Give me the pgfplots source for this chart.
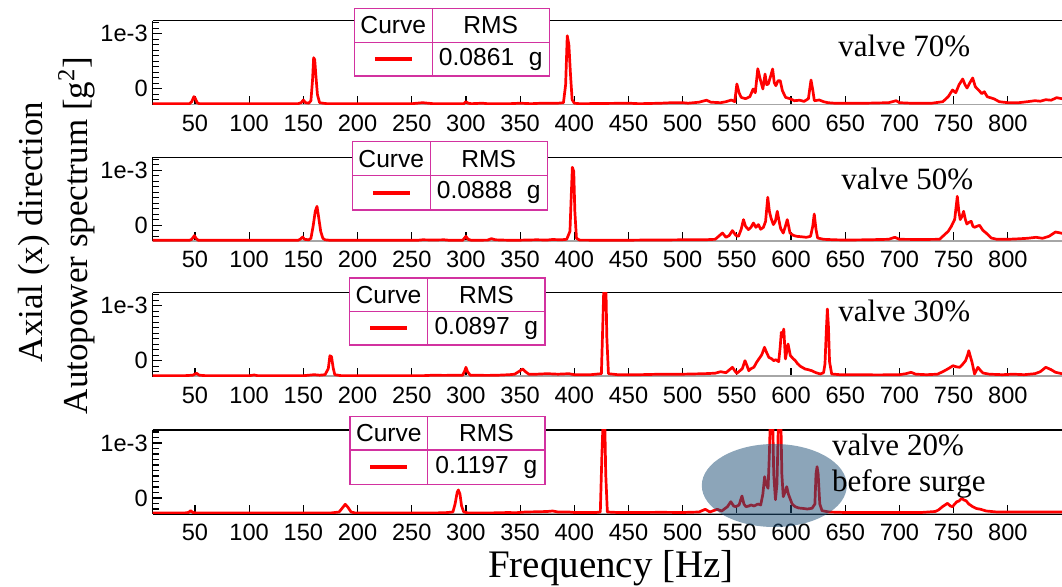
\documentclass[border=0pt]{standalone}
\usepackage{fontspec}
\setmainfont{Liberation Serif}
\newfontfamily\arial{Liberation Sans}
\usepackage{pgfplots}
\pgfplotsset{compat=1.18}
\definecolor{legc}{RGB}{210,50,160}
\definecolor{ellc}{RGB}{29,78,118}
\newcommand{\legfont}{\arial\fontsize{12.3}{14}\selectfont}
\newcommand{\tckfont}{\arial\fontsize{11.8}{14}\selectfont}
\newcommand{\ttlfont}{\fontsize{15.5}{18}\selectfont}
\pgfplotsset{panel/.style={
  at={#1}, anchor=north west,
  scale only axis, width=454.65pt, height=42pt,
  xmin=11, xmax=850, ymin=0, ymax=84,
  axis x line*=box, axis y line*=left,
  xtick={50,100,...,800}, xtick pos=left,
  ytick={16,71}, yticklabels={0,1e-3},
  minor ytick={5,10.5,21.5,27,32.5,38,43.5,49,54.5,60,65.5,76.5,82},
  tick align=inside,
  major tick length=4.5pt, minor tick length=3pt,
  tick style={black, line width=0.6pt},
  axis line style={black, line width=0.6pt},
  ticklabel style={font=\tckfont},
  xticklabel style={yshift=-1.5pt},
  yticklabel style={xshift=1pt},
  /pgf/number format/assume math mode=true,
  clip=true,
}}
\newcommand{\legbox}[7]{%
\begin{scope}[x=0.5pt,y=-0.5pt]
\fill[white] (#1,#2) rectangle (#5,#6);
\draw[legc, line width=0.6pt] (#1,#2) rectangle (#5,#6) (#3,#2) -- (#3,#6) (#1,#4) -- (#5,#4);
\node[font=\legfont, inner sep=0pt] at ({(#1+#3)/2},{(#2+#4)/2}) {Curve};
\node[font=\legfont, inner sep=0pt] at ({(#3+#5)/2},{(#2+#4)/2}) {RMS};
\node[font=\legfont, inner sep=0pt] at ({(#3+#5)/2},{(#4+#6)/2}) {#7\hspace{0.6em}g};
\draw[red, line width=2pt] ({(#1+#3)/2-18.5},{(#4+#6)/2}) -- ++(37,0);
\end{scope}}
\begin{document}
\begin{tikzpicture}
\useasboundingbox (0,0) rectangle (531pt,-293.5pt);
% ---------------- panel 1
\begin{axis}[panel={(76.35pt,-10.35pt)}]
\draw[gray!70, line width=1.2pt] (rel axis cs:0,0) -- (rel axis cs:1,0);
\addplot[red, line width=1.35pt, line join=round] coordinates {
(11,1) (45,1) (47,3) (49,8) (50,7) (52,2) (54,1) (100,1) (145,1) (148,2) (150,4.7) (152,2) (155,1.5) (157,4) (158.5,25) (159.5,47) (160.5,45) (161.5,30) (163,10) (165,2) (168,1.5) (172,1) (250,1) (255,1.5) (260,2) (265,1.5) (270,1) (298,1) (300,3) (302,1.5) (305,1) (315,1.5) (320,1) (340,1) (350,1.5) (360,1) (370,1.5) (385,1.5) (390,2) (392,20) (393.5,69) (395,60) (396.5,30) (398,5) (400,1.5) (405,1) (450,1.5) (460,1) (480,1.5) (490,2) (500,2) (505,1.5) (515,2.5) (522,4.5) (526,2.5) (535,2) (540,3) (545,4.7) (548,3) (550,20.7) (552,12) (554,7.3) (558,6) (562,8) (565,15.7) (567,12) (569.3,36) (571.5,25.7) (574,15.7) (576,30.7) (577.5,20) (579,20.7) (581,28) (583,35.7) (584.5,22) (586,19) (588,24) (590,24) (592,14) (595,7.3) (599,6) (603,4) (608,4.5) (612,3.3) (616,6) (618.4,24.7) (620,15) (621.5,4) (626,4.7) (630,3) (634,2) (640,1.5) (650,1.5) (670,1.5) (690,2) (697,4) (700,2) (710,1.5) (730,1.5) (740,3) (745,8) (749,14.7) (752,12) (755,20) (758.4,25.7) (760.5,20) (762.4,16.7) (765,22) (767.6,26.7) (770,18) (773.6,14) (776,11) (778.3,13) (781,8) (787.6,5.7) (792,3) (800,2) (810,2) (818,3) (825,4) (830,3.5) (835,5) (840,4.5) (845,7) (850,6)
};
\end{axis}
% ---------------- panel 2
\begin{axis}[panel={(76.35pt,-78.65pt)}]
\draw[gray!70, line width=1.2pt] (rel axis cs:0,0) -- (rel axis cs:1,0);
\addplot[red, line width=1.35pt, line join=round] coordinates {
(11,1) (45,1) (47,2) (49.5,5.7) (51,3) (53,1) (100,1) (145,1) (147,2) (149.4,4.3) (151,2) (155,1.5) (157,3) (159,15) (161,30) (162.6,35) (164,25) (166,10) (168,3) (170,1.5) (175,1) (255,1) (260,1.5) (270,1.3) (280,1.5) (285,1) (297,1) (300,5) (302,2) (305,1) (320,1.2) (323.6,2.7) (327,1.5) (335,1.2) (345,1) (365,1.5) (375,1.3) (380,1.8) (388,1.5) (393,2) (396,10) (397,40) (398.2,74) (399.5,70) (400.5,30) (402,3) (405,1.2) (440,1) (460,1.2) (480,1.3) (500,1.5) (520,1.5) (530,2) (536.7,8.3) (540,4) (542.8,5.7) (545.9,10.7) (549,6) (551.5,5) (554,12) (556.1,21.7) (558,15) (560.7,11.7) (563,14) (565.3,18.3) (567.5,14) (569.9,16.7) (572,12) (574.5,14) (576.5,20) (578.5,44) (580,30) (581.5,23.3) (583.7,16.7) (585.5,20) (587.3,30) (589,20) (590.4,12.7) (592.8,8.3) (594.5,14) (596.5,21.7) (598,14) (599,8.3) (602,6) (605,5) (610,4.5) (614.2,4) (618,5) (620,15) (621.4,27.3) (623,12) (624.5,3.3) (630,2) (640,1.5) (650,1.3) (670,1.5) (690,2) (695.7,4) (700,2) (720,1.8) (737,2) (741.7,6.7) (745,10) (747.9,15) (751,22) (753.4,45) (754.8,30) (756.1,21.7) (757.8,25) (759.2,30) (760.8,22) (762.2,17.3) (764.2,19) (766.2,20) (767.8,15) (769.3,14) (771.5,15) (773.9,16) (777,11) (780,8.3) (784.7,3.3) (790,2) (800,2) (810,2.5) (818,3) (826,4) (832,3) (838,5) (844,9.3) (850,8)
};
\end{axis}
% ---------------- panel 3
\begin{axis}[panel={(76.35pt,-146.35pt)}]
\draw[gray!70, line width=1.2pt] (rel axis cs:0,0) -- (rel axis cs:1,0);
\addplot[red, line width=1.35pt, line join=round] coordinates {
(11,1) (40,1) (48,1.5) (51.5,3.4) (54,1.5) (60,1) (100,1) (104.6,1.7) (108,1) (150,1) (155,1.5) (160,2) (165,1.5) (170,2) (173,8) (174.5,21) (176,20) (177.5,9) (179,2) (185,1) (260,1) (270,1.5) (280,1.3) (290,1.5) (297,1.5) (299,6) (300,9.4) (301.5,5) (304,1.5) (320,1.3) (330,1.5) (340,2) (345,2.5) (350,6) (352.5,7.7) (355,5) (358,2.5) (365,2.5) (375,3) (385,2.5) (395,3) (400,2) (415,2) (425,3) (426.5,60) (427.5,100) (429,100) (430,40) (431.5,3) (440,2) (460,2) (480,2.5) (500,2.5) (520,3) (530,3.5) (535,5) (540,4) (545.9,9.4) (548,6) (550,3.4) (555,8) (557.5,16) (559,12) (561,6) (563,8) (565.7,9.4) (568,14) (570.3,17.7) (573,22) (575.5,29.4) (577.5,24) (579.5,19.4) (582,18) (584,16) (586,17) (588.6,15) (590,30) (591,44.4) (592,40) (593.3,47.7) (594.8,17.7) (596,25) (597.2,32.7) (599.4,21) (602,18) (604,16) (606,13) (608.6,10.4) (613,7.7) (616,7) (619,6) (623,4) (627,2.7) (630,4) (631.3,12.7) (632.5,45) (633.5,67.7) (634.5,50) (635.5,15) (637.5,2.7) (645,2) (660,2) (680,1.8) (700,2) (706,3) (710.7,4.4) (715,2.5) (725,2) (735,2.5) (740,5) (745,8) (749.4,11) (752,10) (755.5,9.4) (758,12) (761,16) (763,22) (764,26) (765.5,20) (767,14.4) (769.3,2.7) (772.4,9.4) (775,6) (777,3.7) (783,2.5) (795,2) (805,2.5) (815,2) (825,3) (830,5) (835,9.4) (838,8) (840,7) (844,4.4) (850,3)
};
\end{axis}
% ---------------- panel 4
\begin{axis}[panel={(76.35pt,-215pt)}]
\draw[gray!70, line width=1.2pt] (rel axis cs:0,0) -- (rel axis cs:1,0);
\addplot[red, line width=1.35pt, line join=round] coordinates {
(11,1) (40,1) (44,1.5) (46,3.3) (48,1.5) (52,1) (150,1) (175,1) (183,2) (186,6) (188.6,9.7) (191,7) (194,2) (198,1) (260,1) (280,1.2) (288,2) (290,10) (292,22) (293,24) (294.5,20) (296,8) (298,2) (302,1) (320,1) (340,1.5) (345,1.2) (355,2) (365,2.2) (375,2.5) (380,3) (385,2) (395,2) (400,1.5) (420,1.5) (424,2) (425.5,60) (426.8,100) (428,100) (429,40) (430.5,2) (440,1.5) (460,1.5) (480,1.7) (500,1.5) (515,2) (520.9,4.7) (525,2) (531.9,4.7) (536,3) (541.3,7.3) (544.4,12.3) (547,8) (549,7.3) (552,9) (554.7,18) (556.5,10) (558.4,7.3) (561,8) (563,9) (566,8) (569.4,10) (572,9) (574,20) (575.6,37.3) (577,30) (578.8,25.7) (580,60) (581,100) (583,100) (584,40) (585.6,14.3) (587,30) (588.5,100) (590.5,100) (591.5,40) (592.8,17.3) (594.5,22) (596,27.3) (597.5,20) (599,15.7) (601,10) (603.8,7.3) (607,6) (610,5.7) (615,5) (619.4,5.7) (622,10) (623,40) (624,47.3) (625,40) (626.5,10) (628.6,3.3) (635,2) (650,1.5) (680,1.5) (700,1.5) (720,1.5) (733,2.5) (736,4) (739.7,7.3) (742,9) (744.4,10.7) (747,8) (749,7.3) (751,10) (753,12.3) (755,13) (757.4,15.7) (759.5,14) (761.4,13.3) (764,10) (767.6,7.3) (771,5.5) (775,4.7) (780,3) (790,2) (810,2) (830,2) (850,2)
};
\end{axis}
% ---------------- decorations
\legbox{354.3}{8.3}{432.3}{42.3}{549.3}{76}{0.0861}
\legbox{352.3}{141.7}{430.3}{175.7}{547.3}{210}{0.0888}
\legbox{349.3}{278}{427.7}{311.7}{545}{345}{0.0897}
\legbox{350}{416.7}{427.7}{450}{545}{484.3}{0.1197}
\begin{scope}[x=0.5pt,y=-0.5pt]
\fill[ellc, fill opacity=0.51] (774.3,485.5) ellipse [x radius=36.25pt, y radius=20.75pt];
\node[font=\ttlfont, anchor=base west, inner sep=0pt] at (838,56.7) {valve 70\%};
\node[font=\ttlfont, anchor=base west, inner sep=0pt] at (841,190) {valve 50\%};
\node[font=\ttlfont, anchor=base west, inner sep=0pt] at (838,321.7) {valve 30\%};
\node[font=\ttlfont, anchor=base west, inner sep=0pt] at (831.7,455.7) {valve 20\%};
\node[font=\ttlfont, anchor=base west, inner sep=0pt] at (831.7,491.7) {before surge};
\node[font=\fontsize{17.5}{20}\selectfont, rotate=90, anchor=base, inner sep=0pt] at (42,232) {Axial (x) direction};
\node[font=\fontsize{17.5}{20}\selectfont, rotate=90, anchor=base, inner sep=0pt] at (87,235.5) {Autopower spectrum [g\textsuperscript{2}]};
\node[font=\fontsize{19.5}{22}\selectfont, anchor=base, inner sep=0pt] at (611,578) {Frequency [Hz]};
\end{scope}
\end{tikzpicture}
\end{document}
